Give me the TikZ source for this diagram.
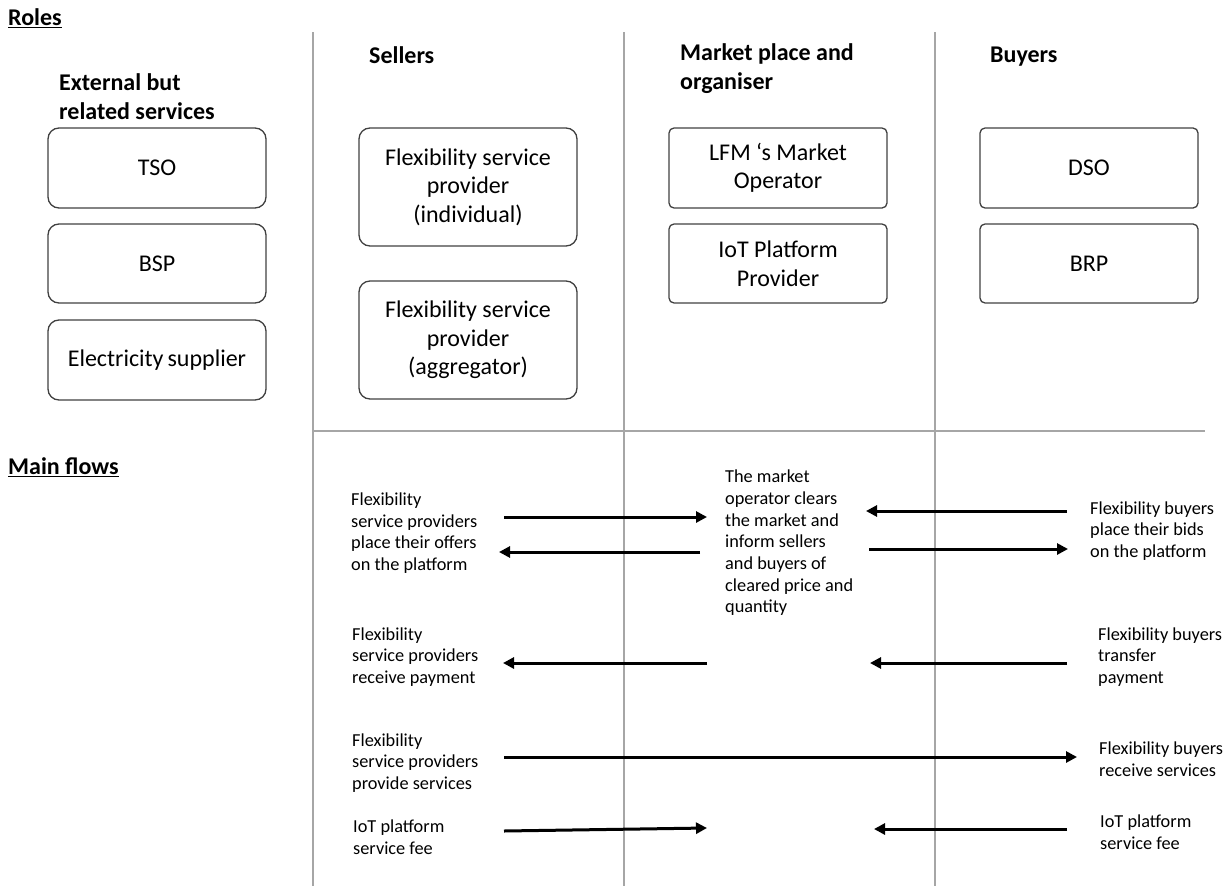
\documentclass[tikz,border=0pt]{standalone}
\usepackage{fontspec}
\setmainfont{Carlito}
\usetikzlibrary{arrows.meta}
\definecolor{boxline}{HTML}{404040}
\definecolor{divider}{HTML}{A6A6A6}
\begin{document}
\begin{tikzpicture}[x=1pt,y=-1pt,
  rolebox/.style={draw=boxline, line width=1.3pt, minimum width=218pt, inner sep=0pt,
    align=center, font=\fontsize{24}{28.5}\selectfont},
  soft/.style={rolebox, rounded corners=11pt},
  sharp/.style={rolebox, rounded corners=5pt},
  colhead/.style={anchor=west, align=left, inner sep=0pt, font=\bfseries\fontsize{24}{29}\selectfont},
  section/.style={anchor=west, inner sep=0pt, font=\bfseries\fontsize{24}{28}\selectfont},
  flowtext/.style={anchor=west, align=left, inner sep=0pt, font=\fontsize{18.3}{21.7}\selectfont},
  sep/.style={draw=divider, line width=1.2pt},
  flow/.style={line width=3pt, -{Triangle[length=11pt,width=11pt]}}
]
\useasboundingbox (0,0) rectangle (1231,886);

% column and section dividers
\coordinate (v1t) at (313,32);  \coordinate (v1b) at (313,886);
\coordinate (v2t) at (624,32);  \coordinate (v2b) at (624,886);
\coordinate (v3t) at (935,32);  \coordinate (v3b) at (935,886);
\coordinate (hl) at (313,431);  \coordinate (hr) at (1205,431);
\draw[sep] (v1t) -- (v1b);
\draw[sep] (v2t) -- (v2b);
\draw[sep] (v3t) -- (v3b);
\draw[sep] (hl) -- (hr);

% section titles
\node[section] (roles) at (8,18) {\underline{Roles}};
\node[section] (mainflows) at (8,467) {\underline{Main flows}};

% column headings
\node[colhead] (hext) at (59,97) {External but\\related services};
\node[colhead] (hsell) at (369,55) {Sellers};
\node[colhead] (hmkt) at (680,69) {Market place and\\organiser};
\node[colhead] (hbuy) at (990,57) {Buyers};

% role boxes
\node[soft, minimum height=80pt] (tso) at (157,168) {TSO};
\node[soft, minimum height=79pt] (bsp) at (157,263.5) {BSP};
\node[soft, minimum height=80pt] (sup) at (157,360) {Electricity\,supplier};
\node[soft, minimum height=118pt] (fspi) at (468,187) {Flexibility service\\provider\\(individual)};
\node[soft, minimum height=118pt] (fspa) at (468,340) {Flexibility service\\provider\\(aggregator)};
\node[sharp, minimum height=80pt] (lfm) at (778,168) {LFM `s Market\\Operator};
\node[sharp, minimum height=79pt] (iotp) at (778,263.5) {IoT Platform\\Provider};
\node[sharp, minimum height=80pt] (dso) at (1089,168) {DSO};
\node[sharp, minimum height=79pt] (brp) at (1089,263.5) {BRP};

% flow descriptions
\node[flowtext] (offers) at (351,533) {Flexibility\\service providers\\place their offers\\on the platform};
\node[flowtext] (clear) at (725,543) {The market\\operator clears\\the market and\\inform sellers\\and buyers of\\cleared price and\\quantity};
\node[flowtext] (bids) at (1090,531) {Flexibility buyers\\place their bids\\on the platform};
\node[flowtext] (recpay) at (352,657) {Flexibility\\service providers\\receive payment};
\node[flowtext] (trpay) at (1098,657) {Flexibility buyers\\transfer\\payment};
\node[flowtext] (provide) at (352,763) {Flexibility\\service providers\\provide services};
\node[flowtext] (receive) at (1099,759) {Flexibility buyers\\receive services};
\node[flowtext] (feeS) at (353,837) {IoT platform\\service fee};
\node[flowtext] (feeB) at (1100,832) {IoT platform\\service fee};

% arrow end points
\coordinate (a1s) at (504,517);  \coordinate (a1e) at (707,517);
\coordinate (a2s) at (700,552);  \coordinate (a2e) at (499,552);
\coordinate (a3s) at (1067,511); \coordinate (a3e) at (866,511);
\coordinate (a4s) at (869,549);  \coordinate (a4e) at (1068,549);
\coordinate (a5s) at (707,663);  \coordinate (a5e) at (503,663);
\coordinate (a6s) at (1067,663); \coordinate (a6e) at (870,663);
\coordinate (a7s) at (504,757);  \coordinate (a7e) at (1077,757);
\coordinate (a8s) at (504,831);  \coordinate (a8e) at (707,828);
\coordinate (a9s) at (1067,829); \coordinate (a9e) at (874,829);

\draw[flow] (a1s) -- (a1e);
\draw[flow] (a2s) -- (a2e);
\draw[flow] (a3s) -- (a3e);
\draw[flow] (a4s) -- (a4e);
\draw[flow] (a5s) -- (a5e);
\draw[flow] (a6s) -- (a6e);
\draw[flow] (a7s) -- (a7e);
\draw[flow] (a8s) -- (a8e);
\draw[flow] (a9s) -- (a9e);
\end{tikzpicture}
\end{document}
